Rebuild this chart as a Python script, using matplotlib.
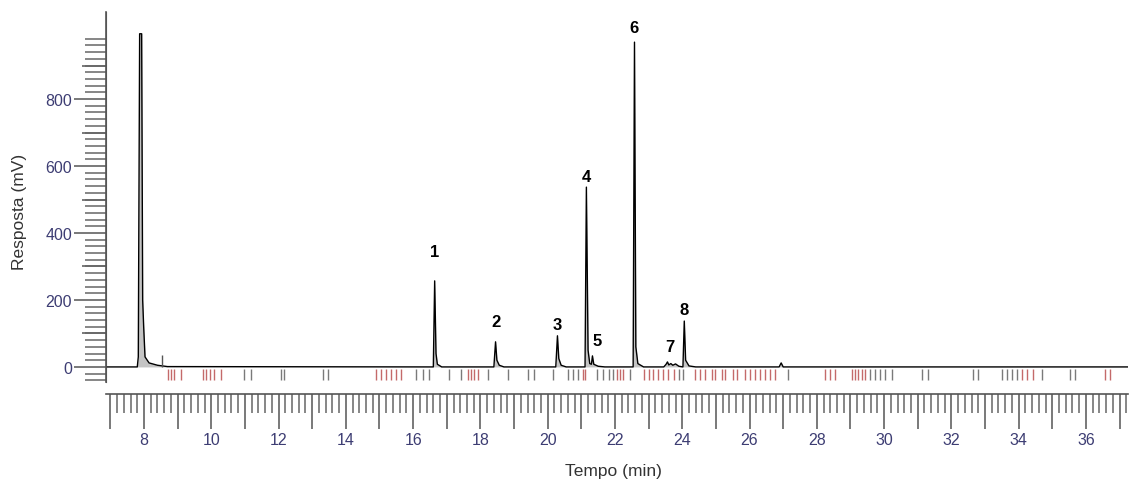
import matplotlib
matplotlib.use("Agg")
import matplotlib.pyplot as plt
from matplotlib.ticker import MultipleLocator, FuncFormatter, NullLocator
import numpy as np

plt.rcParams['font.family'] = ['Liberation Sans', 'DejaVu Sans']

# chromatogram trace, vertices (min, mV)
trace_t = [6.87, 7.80, 7.83, 7.87, 7.93, 7.96, 7.99, 8.03, 8.15, 8.40, 8.70,
           16.60, 16.64, 16.68, 16.72, 16.85,
           18.40, 18.45, 18.49, 18.56, 18.70,
           20.24, 20.29, 20.33, 20.40, 20.55,
           21.11, 21.15, 21.20, 21.25, 21.30, 21.33, 21.37, 21.50, 21.70,
           22.54, 22.58, 22.62, 22.68, 22.85,
           23.45, 23.52, 23.56, 23.60, 23.66, 23.72, 23.80, 23.90,
           24.02, 24.06, 24.10, 24.20, 24.40,
           26.88, 26.94, 27.00, 37.25]
trace_mv = [0, 0, 30, 995, 995, 200, 120, 30, 12, 5, 1,
            0, 257, 40, 8, 0,
            0, 75, 20, 5, 0,
            0, 93, 25, 5, 0,
            0, 537, 50, 10, 8, 33, 8, 2, 0,
            0, 970, 60, 10, 0,
            0, 8, 15, 6, 10, 5, 9, 2,
            0, 137, 20, 3, 0,
            0, 12, 0, 0]

# peak numbers and label positions
peak_names = ["1", "2", "3", "4", "5", "6", "7", "8"]
label_t = [16.64, 18.45, 20.29, 21.15, 21.48, 22.58, 23.62, 24.06]
label_mv = [346, 137, 128, 570, 78, 1015, 60, 173]

# integration event markers below the baseline
red_marks = [8.71, 8.80, 8.89, 9.10, 9.75, 9.84, 9.96, 10.08, 10.29,
             14.89, 15.04, 15.19, 15.33, 15.48, 15.63,
             17.62, 17.71, 17.80, 17.92, 21.06, 21.12,
             22.07, 22.16, 22.25, 22.85, 23.00, 23.14, 23.29, 23.44, 23.59, 23.74,
             24.39, 24.54, 24.69, 24.89, 24.98, 25.19, 25.28, 25.52, 25.64,
             25.87, 26.02, 26.17, 26.32, 26.47, 26.62, 26.76,
             28.25, 28.40, 28.55, 29.05, 29.14, 29.23, 29.35, 29.44,
             34.10, 34.25, 34.42, 36.56, 36.71]
gray_marks = [10.97, 11.18, 12.07, 12.16, 13.31, 13.46, 16.08, 16.28, 16.46,
              17.06, 17.41, 18.24, 18.81, 19.40, 19.58, 20.17, 20.59, 20.74, 20.89,
              21.48, 21.63, 21.81, 21.95, 22.46, 23.89, 24.01, 27.15,
              29.59, 29.73, 29.88, 30.03, 30.24, 31.13, 31.31, 32.64, 32.79,
              33.50, 33.65, 33.80, 33.95, 34.69, 35.52, 35.67]

PT = 0.72  # points per pixel at dpi 100

fig = plt.figure(figsize=(11.3, 4.81), dpi=100)
ax = fig.add_axes([106 / 1130, 1 - 383 / 481, 1022 / 1130, 370 / 481])

ax.fill_between(trace_t, trace_mv, 0, color="#c4c4c4", lw=0)
ax.plot(trace_t, trace_mv, color="black", lw=1.0)
ax.vlines(red_marks, -40, -5, color="#c46a6a", lw=1.0)
ax.vlines(gray_marks, -40, -5, color="#7a7a7a", lw=1.0)
ax.vlines([8.53], 0, 36, color="#555555", lw=1.0)

for name, t, v in zip(peak_names, label_t, label_mv):
    ax.text(t, v, name, ha="center", va="center", fontsize=12,
            fontweight="bold", color="black")

ax.set_xlim(6.87, 37.25)
ax.set_ylim(-45, 1060)

for s in ["top", "right"]:
    ax.spines[s].set_visible(False)
ax.spines["bottom"].set_position(("outward", 12 * PT))
for s in ["left", "bottom"]:
    ax.spines[s].set_color("#555555")
    ax.spines[s].set_linewidth(1.2)

ax.xaxis.set_major_locator(MultipleLocator(1))
ax.xaxis.set_minor_locator(MultipleLocator(0.2))
ax.xaxis.set_major_formatter(FuncFormatter(
    lambda v, p: str(int(round(v))) if int(round(v)) % 2 == 0 else ""))
ax.set_yticks([0, 200, 400, 600, 800])
ax.set_yticks(np.arange(-40, 1000, 20), minor=True)

ax.tick_params(axis="x", which="major", length=35 * PT, width=1.1, color="#555555",
               labelsize=11.5, labelcolor="#3d3d73", pad=3 * PT)
ax.tick_params(axis="x", which="minor", length=19 * PT, width=1.1, color="#666666")
ax.tick_params(axis="y", which="major", length=32 * PT, width=1.1, color="#555555",
               labelsize=11.5, labelcolor="#3d3d73", pad=2 * PT)
ax.tick_params(axis="y", which="minor", length=21 * PT, width=1.1, color="#666666")

sec = ax.secondary_yaxis("left")
sec.set_yticks([100, 300, 500, 700, 900])
sec.yaxis.set_minor_locator(NullLocator())
sec.tick_params(axis="y", length=24 * PT, width=1.1, color="#555555", labelleft=False)
sec.spines["left"].set_color("#555555")

fig.text(20 / 1130, 1 - 212 / 481, "Resposta (mV)", rotation=90, ha="center",
         va="center", fontsize=12.5, color="#333333")
fig.text(613 / 1130, 1 - 472 / 481, "Tempo (min)", ha="center", va="center",
         fontsize=12.5, color="#333333")

fig.savefig("out.png", dpi=100)
